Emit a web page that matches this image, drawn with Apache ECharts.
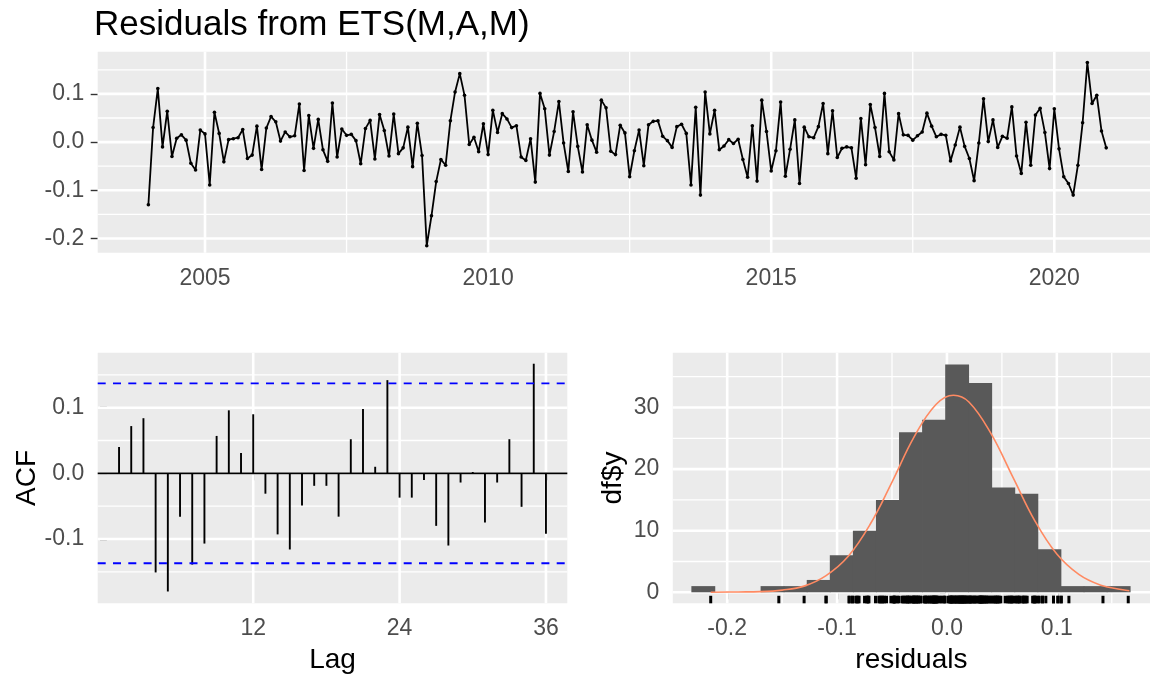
<!DOCTYPE html>
<html>
<head>
<meta charset="utf-8">
<script src="https://cdn.jsdelivr.net/npm/echarts@6/dist/echarts.min.js"></script>
<style>
  html, body { margin: 0; padding: 0; background: #ffffff; }
  #chart { width: 1152px; height: 681px; }
</style>
</head>
<body>
<div id="chart"></div>
<script>
// Monthly residuals of the ETS(M,A,M) fit, January 2004 - December 2020
const residualStart = 2004;
const residuals = [
  -0.130, 0.030, 0.111, -0.010, 0.064, -0.030, 0.008, 0.015, 0.004, -0.044, -0.058, 0.025,
  0.017, -0.089, 0.062, 0.018, -0.041, 0.005, 0.007, 0.009, 0.026, -0.034, -0.027, 0.033,
  -0.057, 0.029, 0.053, 0.042, 0.002, 0.021, 0.011, 0.013, 0.079, -0.059, 0.055, -0.013,
  0.047, -0.016, -0.040, 0.081, -0.031, 0.027, 0.014, 0.016, 0.003, -0.045, 0.028, 0.045,
  -0.035, 0.057, 0.024, -0.029, 0.058, -0.024, -0.012, 0.031, -0.051, 0.039, -0.028, -0.215,
  -0.153, -0.082, -0.036, -0.048, 0.044, 0.104, 0.142, 0.097, -0.005, 0.010, -0.020, 0.038,
  -0.026, 0.066, 0.020, 0.059, 0.048, 0.030, 0.034, -0.031, -0.038, 0.007, -0.083, 0.101,
  0.069, -0.027, 0.022, 0.084, -0.002, -0.061, 0.063, -0.009, -0.062, 0.036, 0.004, -0.021,
  0.087, 0.071, -0.019, -0.026, 0.035, 0.019, -0.072, -0.018, 0.025, -0.049, 0.036, 0.043,
  0.044, 0.012, 0.003, -0.011, 0.032, 0.037, 0.018, -0.089, 0.072, -0.110, 0.104, 0.017,
  0.066, -0.016, -0.008, 0.005, -0.003, 0.006, -0.036, -0.073, 0.034, -0.081, 0.087, 0.022,
  -0.060, -0.018, 0.083, -0.071, -0.015, 0.046, -0.086, 0.031, 0.011, 0.009, 0.032, 0.080,
  -0.024, 0.065, -0.032, -0.013, -0.010, -0.012, -0.075, 0.049, -0.047, 0.078, 0.030, -0.030,
  0.101, -0.020, -0.037, 0.059, 0.015, 0.014, 0.004, 0.013, 0.021, 0.060, 0.033, 0.011,
  0.016, 0.014, -0.039, -0.006, 0.031, -0.009, -0.034, -0.080, -0.002, 0.090, 0.001, 0.046,
  -0.011, 0.012, 0.008, 0.073, -0.029, -0.065, 0.041, -0.048, 0.056, 0.070, 0.020, -0.055,
  0.069, -0.014, -0.072, -0.086, -0.110, -0.048, 0.040, 0.165, 0.080, 0.097, 0.023, -0.012
];

// Autocorrelations for lags 1..36 and the 95% bound
const acfValues = [
  0.040, 0.072, 0.084, -0.151, -0.180, -0.066, -0.139, -0.107, 0.057, 0.096, 0.031, 0.090,
  -0.031, -0.093, -0.116, -0.049, -0.019, -0.019, -0.066, 0.052, 0.098, 0.010, 0.142, -0.037,
  -0.037, -0.010, -0.080, -0.110, -0.014, 0.002, -0.075, -0.014, 0.052, -0.051, 0.167, -0.092
];
const acfBound = 0.137;

// Histogram of residuals
const histStart = -0.2326;
const histBinWidth = 0.0210;
const histCounts = [1, 0, 0, 1, 1, 2, 6, 10, 15, 26, 28, 37, 34, 17, 16, 7, 1, 1, 1];

// Normal curve overlaid on the histogram (count scale)
const normalX = [-0.215, -0.19, -0.17, -0.15, -0.13, -0.11, -0.09, -0.07, -0.05, -0.03, -0.01,
                 0.006, 0.02, 0.04, 0.06, 0.08, 0.10, 0.12, 0.14, 0.16, 0.166];
const normalY = [0.0, 0.05, 0.1, 0.35, 1.0, 2.7, 5.8, 11.0, 17.9, 25.2, 30.5,
                 32.0, 30.9, 25.8, 18.7, 11.6, 6.2, 2.9, 1.15, 0.4, 0.25];

// Tick positions
const yearTicks = [2005, 2010, 2015, 2020];
const yearMinor = [2007.5, 2012.5, 2017.5];
const residTicks = [-0.2, -0.1, 0, 0.1];
const residMinor = [-0.15, -0.05, 0.05, 0.15];
const lagTicks = [12, 24, 36];
const acfTicks = [-0.1, 0, 0.1];
const acfMinor = [-0.15, -0.05, 0.05, 0.15];
const histXTicks = [-0.2, -0.1, 0, 0.1];
const histXMinor = [-0.15, -0.05, 0.05, 0.15];
const histYTicks = [0, 10, 20, 30];
const histYMinor = [5, 15, 25, 35];

const FONT = "'Liberation Sans', Arial, sans-serif";
const TICK_COLOR = '#333333';
const LABEL_COLOR = '#4D4D4D';
const MAJOR_W = 2.6, MINOR_W = 1.3;

const extents = [
  { x: [2003.105, 2021.69], y: [-0.2295, 0.1875] },
  { x: [-0.75, 37.75], y: [-0.198, 0.1838] },
  { x: [-0.2495, 0.1848], y: [-1.79, 38.9] }
];

function fmt1(v) { return Number(v).toFixed(1); }
function fmt0(v) { return String(Math.round(v)); }

function xAxisCfg(idx, ticks, formatter) {
  return {
    type: 'value', gridIndex: idx, min: extents[idx].x[0], max: extents[idx].x[1],
    axisLine: { show: false },
    splitLine: { show: false },
    axisTick: { show: true, customValues: ticks, length: 7, lineStyle: { color: TICK_COLOR, width: 1.4 } },
    axisLabel: { show: true, customValues: ticks, formatter, margin: 14, color: LABEL_COLOR,
                 fontSize: 23, fontFamily: FONT }
  };
}
function yAxisCfg(idx, ticks, formatter) {
  return {
    type: 'value', gridIndex: idx, min: extents[idx].y[0], max: extents[idx].y[1],
    axisLine: { show: false },
    splitLine: { show: false },
    axisTick: { show: true, customValues: ticks, length: 7, lineStyle: { color: TICK_COLOR, width: 1.4 } },
    axisLabel: { show: true, customValues: ticks, formatter, margin: 13.5, color: LABEL_COLOR,
                 fontSize: 23, fontFamily: FONT }
  };
}

// White panel grid lines: horizontal (kind 0) and vertical (kind 1)
function gridLineSeries(idx, hVals, vVals, width) {
  const xRef = extents[idx].x[0], yRef = extents[idx].y[0];
  const data = hVals.map(v => [xRef, v, 0]).concat(vVals.map(v => [v, yRef, 1]));
  return {
    type: 'custom', xAxisIndex: idx, yAxisIndex: idx, z: 1, silent: true, data,
    renderItem(params, api) {
      const cs = params.coordSys;
      if (api.value(2) === 0) {
        const y = api.coord([xRef, api.value(1)])[1];
        return { type: 'line', shape: { x1: cs.x, y1: y, x2: cs.x + cs.width, y2: y },
                 style: { stroke: '#FFFFFF', lineWidth: width } };
      }
      const x = api.coord([api.value(0), yRef])[0];
      return { type: 'line', shape: { x1: x, y1: cs.y, x2: x, y2: cs.y + cs.height },
               style: { stroke: '#FFFFFF', lineWidth: width } };
    }
  };
}

// Horizontal reference lines across a panel
function hLineSeries(idx, values, stroke, width, dash, z) {
  const xRef = extents[idx].x[0];
  return {
    type: 'custom', xAxisIndex: idx, yAxisIndex: idx, z, silent: true,
    data: values.map(v => [xRef, v]),
    renderItem(params, api) {
      const cs = params.coordSys;
      const y = api.coord([xRef, api.value(1)])[1];
      return { type: 'line', shape: { x1: cs.x, y1: y, x2: cs.x + cs.width, y2: y },
               style: { stroke, lineWidth: width, lineDash: dash || null } };
    }
  };
}

const residualPoints = residuals.map((v, i) => [residualStart + i / 12, v]);
const acfPoints = acfValues.map((v, i) => [i + 1, v]);
const histBins = histCounts.map((c, i) => [histStart + i * histBinWidth, histStart + (i + 1) * histBinWidth, c]);
const normalPoints = normalX.map((x, i) => [x, normalY[i]]);

const chart = echarts.init(document.getElementById('chart'), null, { renderer: 'canvas' });

const option = {
  animation: false,
  backgroundColor: '#FFFFFF',
  graphic: [
    { type: 'text', x: 94, y: 25, style: { text: 'Residuals from ETS(M,A,M)', fill: '#000000',
      font: '35px ' + FONT, align: 'left', verticalAlign: 'middle' } },
    { type: 'text', x: 27, y: 478, rotation: Math.PI / 2, style: { text: 'ACF', fill: '#000000',
      font: '28px ' + FONT, align: 'center', verticalAlign: 'middle' } },
    { type: 'text', x: 332.5, y: 660.5, style: { text: 'Lag', fill: '#000000',
      font: '28px ' + FONT, align: 'center', verticalAlign: 'middle' } },
    { type: 'text', x: 613, y: 478, rotation: Math.PI / 2, style: { text: 'df$y', fill: '#000000',
      font: '28px ' + FONT, align: 'center', verticalAlign: 'middle' } },
    { type: 'text', x: 911.4, y: 660.5, style: { text: 'residuals', fill: '#000000',
      font: '28px ' + FONT, align: 'center', verticalAlign: 'middle' } }
  ],
  grid: [
    { left: 97.7, top: 51.7, width: 1052.3, height: 201, show: true, backgroundColor: '#EBEBEB', borderWidth: 0 },
    { left: 97.7, top: 352.7, width: 469.6, height: 250.6, show: true, backgroundColor: '#EBEBEB', borderWidth: 0 },
    { left: 672.8, top: 352.7, width: 477.2, height: 250.6, show: true, backgroundColor: '#EBEBEB', borderWidth: 0 }
  ],
  xAxis: [
    xAxisCfg(0, yearTicks, fmt0),
    xAxisCfg(1, lagTicks, fmt0),
    xAxisCfg(2, histXTicks, fmt1)
  ],
  yAxis: [
    yAxisCfg(0, residTicks, fmt1),
    yAxisCfg(1, acfTicks, fmt1),
    yAxisCfg(2, histYTicks, fmt0)
  ],
  series: [
    // panel grids
    gridLineSeries(0, residMinor, yearMinor, MINOR_W),
    gridLineSeries(0, residTicks, yearTicks, MAJOR_W),
    gridLineSeries(1, acfMinor, [], MINOR_W),
    gridLineSeries(1, acfTicks, lagTicks, MAJOR_W),
    gridLineSeries(2, histYMinor, histXMinor, MINOR_W),
    gridLineSeries(2, histYTicks, histXTicks, MAJOR_W),

    // residual time plot
    {
      type: 'line', xAxisIndex: 0, yAxisIndex: 0, z: 3, data: residualPoints,
      showSymbol: true, symbol: 'circle', symbolSize: 3.6,
      itemStyle: { color: '#000000' },
      lineStyle: { color: '#000000', width: 1.8 },
      emphasis: { disabled: true }
    },

    // ACF
    hLineSeries(1, [0], '#000000', 1.8, null, 3),
    {
      type: 'custom', xAxisIndex: 1, yAxisIndex: 1, z: 3, data: acfPoints,
      renderItem(params, api) {
        const p0 = api.coord([api.value(0), 0]);
        const p1 = api.coord([api.value(0), api.value(1)]);
        return { type: 'line', shape: { x1: p0[0], y1: p0[1], x2: p1[0], y2: p1[1] },
                 style: { stroke: '#000000', lineWidth: 1.9 } };
      }
    },
    hLineSeries(1, [acfBound, -acfBound], '#0000FF', 1.8, [8, 7.3], 4),

    // histogram bars (slightly overlapped so adjacent bins join without seams)
    {
      type: 'custom', xAxisIndex: 2, yAxisIndex: 2, z: 3, data: histBins,
      renderItem(params, api) {
        if (api.value(2) <= 0) return null;
        const p0 = api.coord([api.value(0), api.value(2)]);
        const p1 = api.coord([api.value(1), 0]);
        return { type: 'rect', shape: { x: p0[0], y: p0[1], width: p1[0] - p0[0] + 0.8, height: p1[1] - p0[1] },
                 style: { fill: '#595959' } };
      }
    },
    // normal density curve
    {
      type: 'line', xAxisIndex: 2, yAxisIndex: 2, z: 4, data: normalPoints,
      showSymbol: false, smooth: 0.4,
      lineStyle: { color: '#FF8A62', width: 1.6 },
      emphasis: { disabled: true }
    },
    // rug of residuals
    {
      type: 'custom', xAxisIndex: 2, yAxisIndex: 2, z: 4,
      data: residuals.map(v => [v, 0]),
      renderItem(params, api) {
        const cs = params.coordSys;
        const x = api.coord([api.value(0), 0])[0];
        const yb = cs.y + cs.height;
        return { type: 'line', shape: { x1: x, y1: yb, x2: x, y2: yb - 0.03 * cs.height },
                 style: { stroke: '#000000', lineWidth: 3 } };
      }
    }
  ]
};

chart.setOption(option);
</script>
</body>
</html>
